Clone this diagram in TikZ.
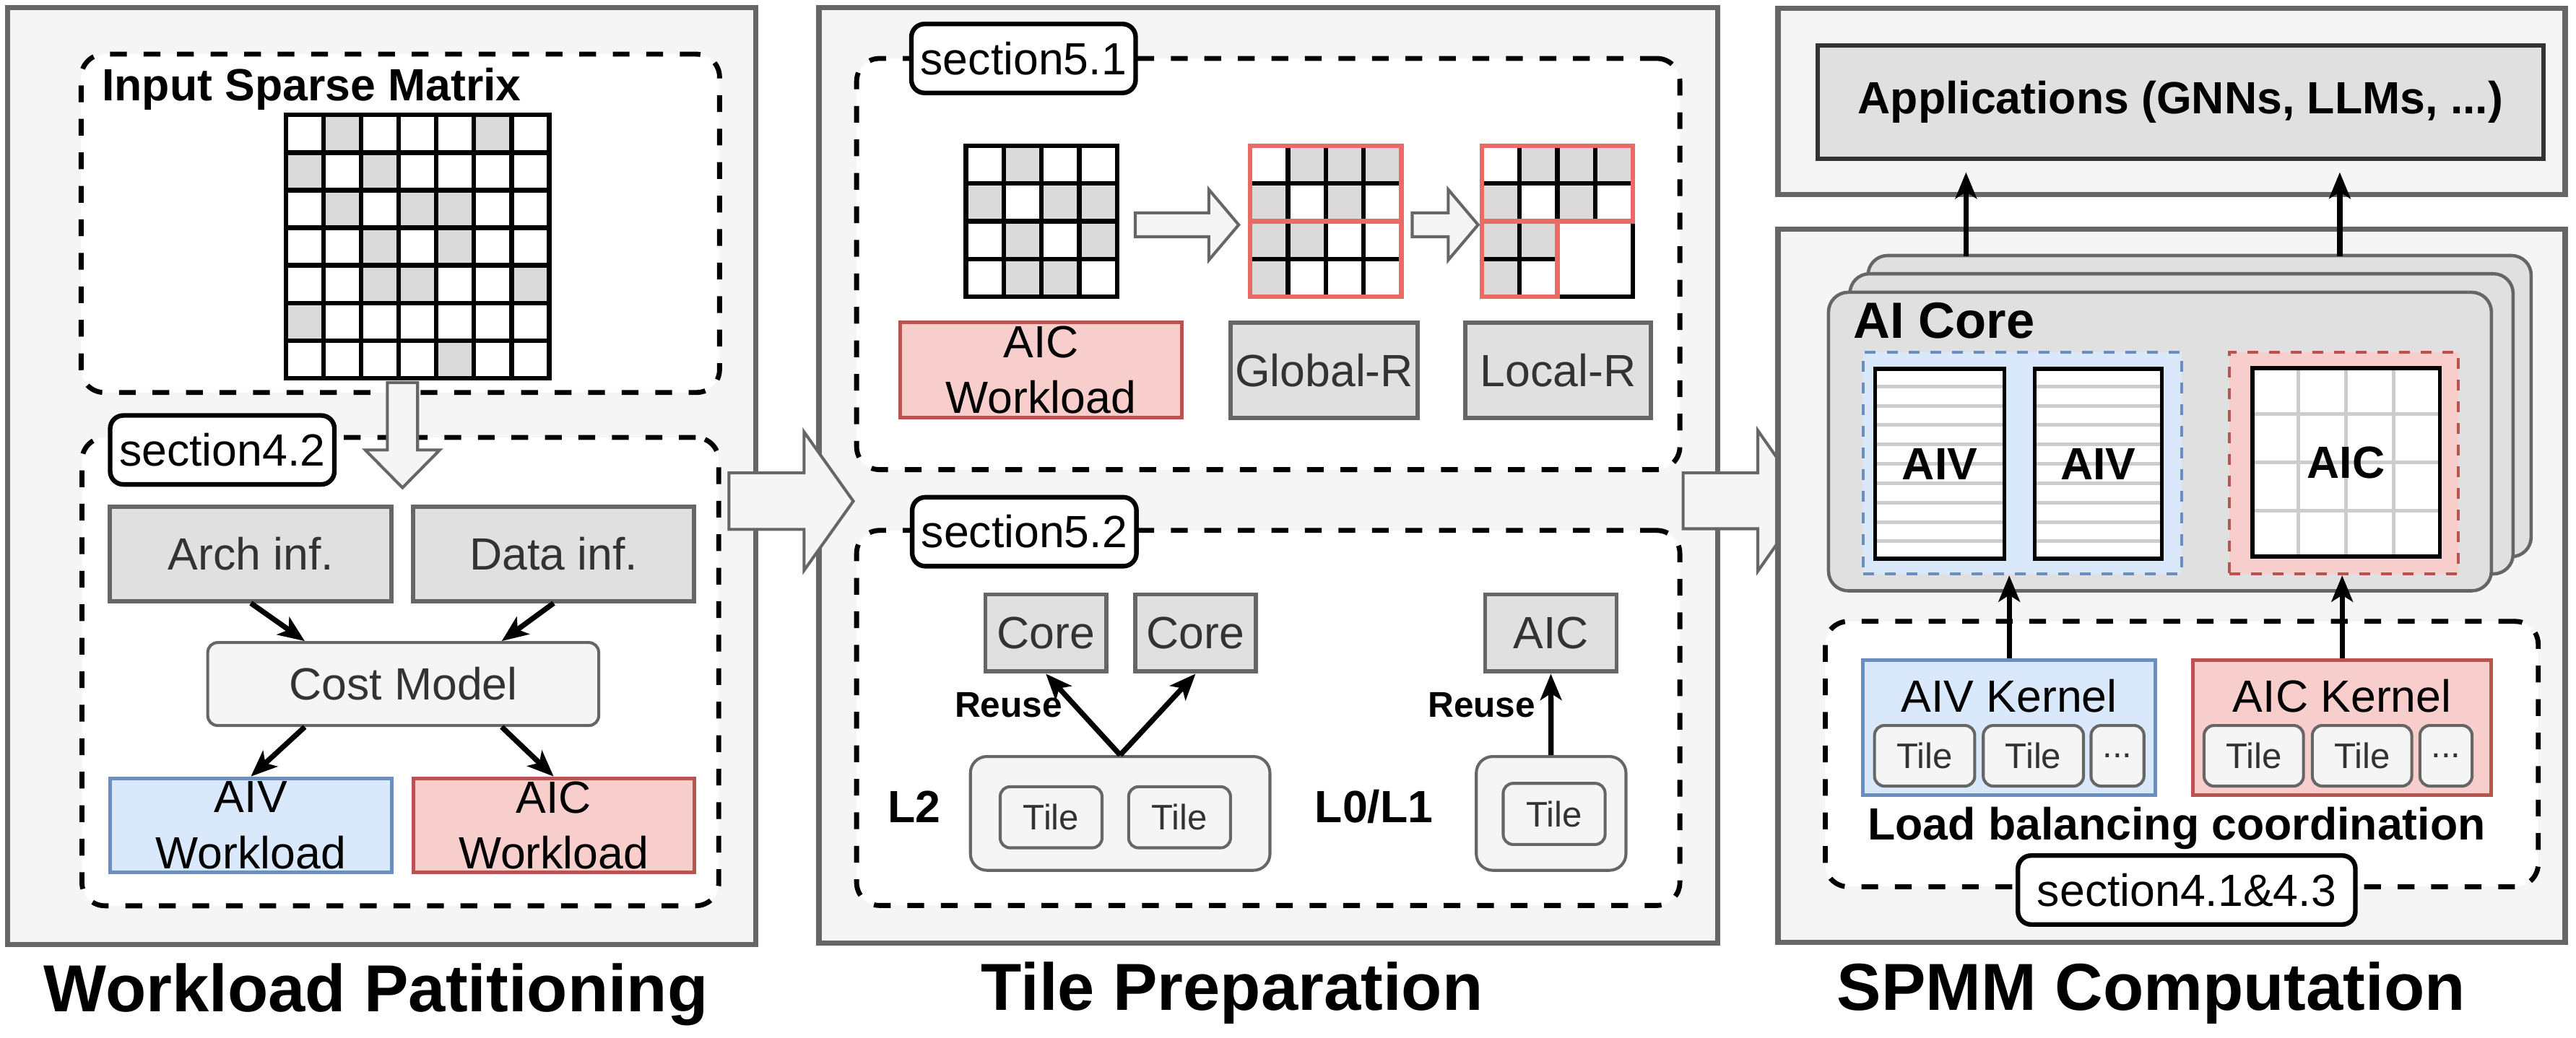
\documentclass[tikz,border=0pt]{standalone}
\usepackage{fontspec}
\setmainfont{Liberation Sans}
\usetikzlibrary{arrows.meta,positioning,calc}
\definecolor{pfill}{HTML}{F5F5F5}
\definecolor{pline}{HTML}{666666}
\definecolor{gfill}{HTML}{E0E0E0}
\definecolor{gtext}{HTML}{333333}
\definecolor{bfill}{HTML}{DAE8FC}
\definecolor{bline}{HTML}{6C8EBF}
\definecolor{rfill}{HTML}{F8CECC}
\definecolor{rline}{HTML}{B85450}
\definecolor{mred}{HTML}{EA6B66}
\definecolor{cellgray}{HTML}{DADADA}
\definecolor{stripegray}{HTML}{CCCCCC}
\newcommand{\fbody}{\fontsize{13.75}{17}\selectfont}
\newcommand{\ftitle}{\fontsize{20.25}{24}\selectfont\bfseries}
\newcommand{\ftile}{\fontsize{10.8}{13}\selectfont}
\newcommand{\freuse}{\fontsize{10.9}{13}\selectfont\bfseries}
\newcommand{\fcore}{\fontsize{15.5}{18}\selectfont\bfseries}
\tikzset{
  panel/.style={draw=pline, fill=pfill, line width=1.6pt, inner sep=0pt},
  region/.style={draw=black, fill=white, line width=1.5pt, dash pattern=on 5.1pt off 5.1pt, rounded corners=7pt, inner sep=0pt},
  seclabel/.style={draw=black, fill=white, line width=1.4pt, rounded corners=4pt, font=\fbody, minimum width=68.25pt, minimum height=21pt, inner sep=0pt},
  graybox/.style={draw=pline, fill=gfill, text=gtext, line width=1.3pt, font=\fbody, inner sep=0pt},
  bluebox/.style={draw=bline, fill=bfill, line width=1.1pt, font=\fbody, align=center, inner sep=0pt},
  redbox/.style={draw=rline, fill=rfill, line width=1.1pt, font=\fbody, align=center, inner sep=0pt},
  softbox/.style={draw=pline, fill=pfill, text=gtext, line width=0.9pt, rounded corners=3pt, inner sep=0pt},
  tilebox/.style={softbox, font=\ftile, minimum width=31pt, minimum height=18.6pt},
  card/.style={draw=pline, fill=gfill, line width=1pt, rounded corners=6pt, inner sep=0pt},
  unitbox/.style={draw=black, fill=white, line width=1.2pt, inner sep=0pt},
  stripe/.style={draw=stripegray, line width=1.1pt, shorten <=1.2pt, shorten >=1.2pt},
  flow/.style={-{Stealth[length=8pt,width=6.5pt,inset=2pt]}, line width=1.6pt},
  hollow/.style={draw=pline, fill=pfill, line width=0.9pt, line join=miter},
  matline/.style={line width=1.4pt, line cap=rect},
  title/.style={font=\ftitle, anchor=base, inner sep=0pt},
  boldlab/.style={font=\fbody\bfseries, inner sep=0pt},
}
% horizontal hollow arrow: x start, x head, x tip, y, shaft half, head half
\newcommand{\blockarrow}[6]{%
  \draw[hollow] (#1,{#4-#5}) -- (#2,{#4-#5}) -- (#2,{#4-#6}) -- (#3,#4)
    -- (#2,{#4+#6}) -- (#2,{#4+#5}) -- (#1,{#4+#5}) -- cycle;}

\begin{document}
\begin{tikzpicture}[x=0.5pt, y=-0.5pt]
  \useasboundingbox (0,0) rectangle (1568,632);
  \fill[white] (0,0) rectangle (1568,632);

  % ---- workload partitioning
  \node[panel, minimum width=227.7pt, minimum height=285.2pt] (wp) at (232.3,289.9) {};
  \node[region, minimum width=194.3pt, minimum height=103pt] (inbox) at (243.7,136) {};
  \node[boldlab, anchor=base west] (intitle) at (61.7,61.2) {Input Sparse Matrix};
  \begin{scope}[shift={(174,70)}]
    \foreach \c/\r in {2/1,6/1,1/2,3/2,2/3,4/3,5/3,3/4,5/4,3/5,4/5,7/5,1/6,5/7}
      \fill[cellgray] ({(\c-1)*22.9},{(\r-1)*22.9}) rectangle ++(22.9,22.9);
    \foreach \k in {0,...,7} {
      \draw[matline] ({\k*22.9},0) -- ({\k*22.9},160.3);
      \draw[matline] (0,{\k*22.9}) -- (160.3,{\k*22.9});
    }
  \end{scope}

  \node[region, minimum width=193.8pt, minimum height=142.6pt] (costreg) at (243.7,409) {};
  \draw[hollow] (235.8,233) -- (254.2,233) -- (254.2,274) -- (267.7,274) -- (245,297)
    -- (222.3,274) -- (235.8,274) -- cycle;
  \node[seclabel] (sec42) at (135.3,274) {section4.2};
  \node[graybox, minimum width=85.7pt, minimum height=28.75pt] (arch) at (152.7,337.25) {Arch inf.};
  \node[graybox, minimum width=85.5pt, minimum height=28.75pt] (datainf) at (337,337.25) {Data inf.};
  \node[softbox, font=\fbody, minimum width=119pt, minimum height=25.25pt] (cost) at (245.45,416.55) {Cost Model};
  \node[bluebox, minimum width=85.7pt, minimum height=28.65pt] (aivw) at (152.7,502.6) {AIV\\Workload};
  \node[redbox, minimum width=85.5pt, minimum height=28.65pt] (aicw) at (337,502.6) {AIC\\Workload};
  \draw[flow] (arch.south) -- ($(cost.north west)!.25!(cost.north east)$);
  \draw[flow] (datainf.south) -- ($(cost.north west)!.75!(cost.north east)$);
  \draw[flow] ($(cost.south west)!.25!(cost.south east)$) -- (aivw.north);
  \draw[flow] ($(cost.south west)!.75!(cost.south east)$) -- (aicw.north);
  \node[title] (t1) at (228.9,616) {Workload Patitioning};

  % ---- tile preparation
  \node[panel, minimum width=273.45pt, minimum height=284.9pt] (tp) at (771.95,289.4) {};
  \node[region, minimum width=250.55pt, minimum height=125.2pt] (reorder) at (771.95,160.8) {};
  \node[seclabel] (sec51) at (623,35.6) {section5.1};
  \begin{scope}[shift={(588,88.7)}]
    \foreach \c/\r in {2/1,1/2,3/2,4/2,2/3,4/3,2/4,3/4}
      \fill[cellgray] ({(\c-1)*23},{(\r-1)*23}) rectangle ++(23,23);
    \foreach \k in {0,...,4} {
      \draw[matline] ({\k*23},0) -- ({\k*23},92);
      \draw[matline] (0,{\k*23}) -- (92,{\k*23});
    }
  \end{scope}
  \begin{scope}[shift={(761,88.7)}]
    \foreach \c/\r in {2/1,3/1,4/1,1/2,3/2,1/3,2/3,1/4}
      \fill[cellgray] ({(\c-1)*23},{(\r-1)*23}) rectangle ++(23,23);
    \foreach \k in {1,2,3} \draw[matline] ({\k*23},0) -- ({\k*23},92);
    \foreach \k in {1,3} \draw[matline] (0,{\k*23}) -- (92,{\k*23});
    \draw[matline, draw=mred] (0,0) rectangle (92,46);
    \draw[matline, draw=mred] (0,46) rectangle (92,92);
  \end{scope}
  \begin{scope}[shift={(902,88.7)}]
    \foreach \c/\r in {2/1,3/1,4/1,1/2,3/2,1/3,2/3,1/4}
      \fill[cellgray] ({(\c-1)*23},{(\r-1)*23}) rectangle ++(23,23);
    \foreach \k in {1,2,3} \draw[matline] ({\k*23},0) -- ({\k*23},46);
    \draw[matline] (0,23) -- (92,23);
    \draw[matline] (23,46) -- (23,92);
    \draw[matline] (0,69) -- (46,69);
    \draw[matline] (46,46) rectangle (92,92);
    \draw[matline, draw=mred] (0,0) rectangle (92,46);
    \draw[matline, draw=mred] (0,46) rectangle (46,92);
  \end{scope}
  \blockarrow{691}{735.8}{754}{136.9}{7.3}{21.5}
  \blockarrow{859.6}{881.5}{899.7}{136.9}{7.3}{21.5}
  \node[redbox, minimum width=85.65pt, minimum height=29.1pt] (aicw2) at (633.65,225.4) {AIC\\Workload};
  \node[graybox, minimum width=57pt, minimum height=29.1pt] (globr) at (806,225.4) {Global-R};
  \node[graybox, minimum width=56.5pt, minimum height=29.1pt] (locr) at (948.5,225.4) {Local-R};

  \node[region, minimum width=250.55pt, minimum height=114.2pt] (reuse) at (771.95,437.2) {};
  \node[seclabel] (sec52) at (623.5,323.8) {section5.2};
  \node[graybox, minimum width=36.8pt, minimum height=23.5pt] (core1) at (636.6,385.5) {Core};
  \node[graybox, minimum width=36.8pt, minimum height=23.5pt] (core2) at (727.75,385.5) {Core};
  \node[graybox, minimum width=40pt, minimum height=23.5pt] (aicu) at (944,385.5) {AIC};
  \node[softbox, rounded corners=5pt, minimum width=91.15pt, minimum height=34.65pt] (ltwo) at (681.85,495.35) {};
  \node[tilebox] (tile1) at (639.8,497.7) {Tile};
  \node[tilebox] (tile2) at (718,497.7) {Tile};
  \node[softbox, rounded corners=5pt, minimum width=45.55pt, minimum height=34.65pt] (lzero) at (944.15,495.35) {};
  \node[tilebox] (tile3) at (946,495.65) {Tile};
  \node[boldlab, anchor=base west] (ltwolab) at (540,501) {L2};
  \node[boldlab, anchor=base west] (lzerolab) at (800,501) {L0/L1};
  \draw[flow] (ltwo.north) -- (core1.south);
  \draw[flow] (ltwo.north) -- (core2.south);
  \draw[flow] (lzero.north) -- (aicu.south);
  \node[font=\freuse, anchor=base east, inner sep=0pt] (reuse1) at (647,436.6) {Reuse};
  \node[font=\freuse, anchor=base east, inner sep=0pt] (reuse2) at (935,436.6) {Reuse};
  \node[title] (t2) at (750,615) {Tile Preparation};

  \blockarrow{443.7}{489.4}{519.4}{305.2}{17.2}{42.2}
  \blockarrow{1024.5}{1070}{1100}{305}{17}{42.8}

  % ---- spmm computation
  \node[panel, minimum width=239.55pt, minimum height=56.7pt] (apppanel) at (1321.85,61.7) {};
  \node[draw=gtext, fill=gfill, line width=1.3pt, font=\fbody\bfseries, inner sep=0pt,
    minimum width=220.75pt, minimum height=34.5pt] (apps) at (1327.25,62.1) {Applications (GNNs, LLMs, ...)};
  \node[panel, minimum width=239.55pt, minimum height=217.2pt] (comppanel) at (1321.85,356.7) {};
  \node[card, minimum width=201.85pt, minimum height=91.7pt] (card3) at (1338.85,247.3) {};
  \node[card, minimum width=201.85pt, minimum height=91.4pt] (card2) at (1327.85,258.1) {};
  \node[card, minimum width=201.75pt, minimum height=90.9pt] (card1) at (1314.75,268.9) {};
  \node[font=\fcore, anchor=base west, inner sep=0pt] (corelab) at (1127.8,205.8) {AI Core};
  \node[draw=bline, fill=bfill, line width=0.9pt, dash pattern=on 3.3pt off 3.3pt,
    minimum width=96.9pt, minimum height=67.5pt] (vecreg) at (1230.9,282) {};
  \node[draw=rline, fill=rfill, line width=0.9pt, dash pattern=on 3.3pt off 3.3pt,
    minimum width=69.6pt, minimum height=67.5pt] (cubereg) at (1426.6,282) {};
  \node[unitbox, minimum width=39.3pt, minimum height=57.75pt] (aiv1) at (1180.7,282.45) {};
  \node[unitbox, minimum width=38.7pt, minimum height=57.75pt] (aiv2) at (1277.1,282.45) {};
  \node[unitbox, minimum width=57pt, minimum height=57.4pt] (aic3) at (1428,281.6) {};
  \foreach \k in {1,...,9} {
    \draw[stripe] ($(aiv1.north west)!\k/10!(aiv1.south west)$) -- ($(aiv1.north east)!\k/10!(aiv1.south east)$);
    \draw[stripe] ($(aiv2.north west)!\k/10!(aiv2.south west)$) -- ($(aiv2.north east)!\k/10!(aiv2.south east)$);
  }
  \foreach \k in {1,2,3} {
    \draw[stripe] ($(aic3.north west)!\k/4!(aic3.north east)$) -- ($(aic3.south west)!\k/4!(aic3.south east)$);
    \draw[stripe] ($(aic3.north west)!\k/4!(aic3.south west)$) -- ($(aic3.north east)!\k/4!(aic3.south east)$);
  }
  \node[boldlab] (aiv1lab) at (aiv1) {AIV};
  \node[boldlab] (aiv2lab) at (aiv2) {AIV};
  \node[boldlab] (aic3lab) at (aic3) {AIC};
  \coordinate (up1) at (1196.7,156);
  \coordinate (up2) at (1424.2,156);
  \draw[flow, shorten >=3.5pt] (up1) -- (up1 |- apps.south);
  \draw[flow, shorten >=3.5pt] (up2) -- (up2 |- apps.south);

  \node[region, minimum width=217pt, minimum height=80.8pt] (lbreg) at (1328,459.2) {};
  \node[bluebox, minimum width=89pt, minimum height=41pt] (aivk) at (1223,443) {};
  \node[font=\fbody, anchor=base, inner sep=0pt] (aivklab) at (1223,433.8) {AIV Kernel};
  \node[tilebox, minimum width=30.5pt, minimum height=18.45pt] (ka1) at (1171.5,460.25) {Tile};
  \node[tilebox, minimum width=30.5pt, minimum height=18.45pt] (ka2) at (1237.7,460.25) {Tile};
  \node[tilebox, minimum width=16.1pt, minimum height=18.45pt] (ka3) at (1288.9,460.25) {...};
  \node[redbox, minimum width=90.85pt, minimum height=41pt] (aick) at (1425.65,443) {};
  \node[font=\fbody, anchor=base, inner sep=0pt] (aicklab) at (1425.65,433.8) {AIC Kernel};
  \node[tilebox, minimum width=30.25pt, minimum height=18.45pt] (kc1) at (1371.85,460.25) {Tile};
  \node[tilebox, minimum width=30.25pt, minimum height=18.45pt] (kc2) at (1437.75,460.25) {Tile};
  \node[tilebox, minimum width=15.85pt, minimum height=18.45pt] (kc3) at (1488.85,460.25) {...};
  \node[boldlab, fill=white, anchor=base, inner sep=1pt] (lblab) at (1324.9,511.4) {Load balancing coordination};
  \node[seclabel, minimum width=102.7pt] (sec4143) at (1331,542) {section4.1\&4.3};
  \draw[flow] (aivk.north) -- (aivk.north |- vecreg.south);
  \draw[flow] (aick.north) -- (aick.north |- cubereg.south);
  \node[title] (t3) at (1309.4,615) {SPMM Computation};
\end{tikzpicture}
\end{document}
